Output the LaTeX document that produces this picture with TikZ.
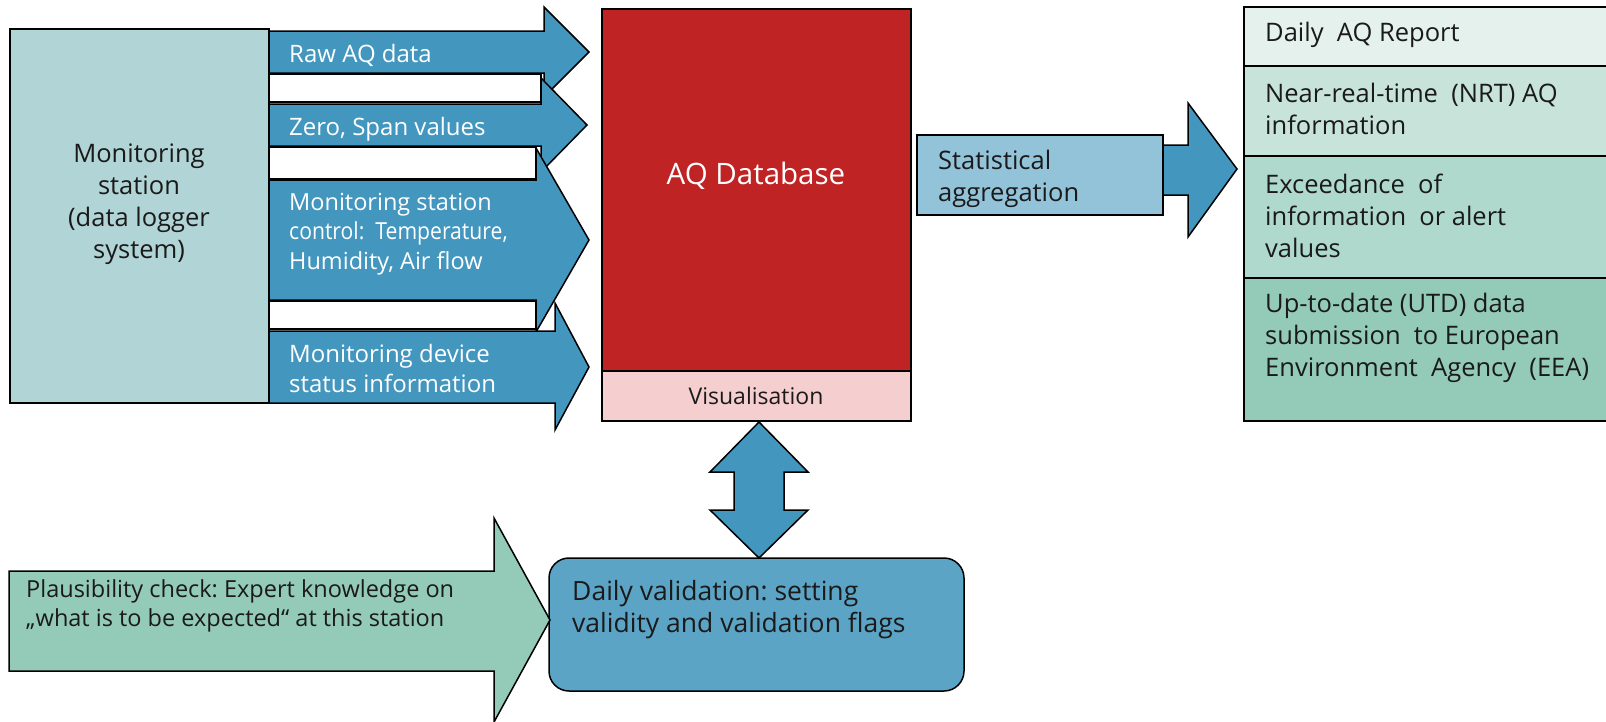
\documentclass[tikz,border=0pt]{standalone}
\usepackage{fontspec}
\setmainfont{Open Sans}
\newfontfamily\narrowfont[FakeStretch=0.9]{Open Sans}
\usepackage{tikz}
\frenchspacing

\definecolor{stationgray}{HTML}{B1D4D6}
\definecolor{flowblue}{HTML}{4397BF}
\definecolor{dbred}{HTML}{C02323}
\definecolor{vispink}{HTML}{F5CFCF}
\definecolor{statblue}{HTML}{93C3D9}
\definecolor{validblue}{HTML}{5BA4C5}
\definecolor{plaugreen}{HTML}{93CAB8}
\definecolor{rowa}{HTML}{E4F1ED}
\definecolor{rowb}{HTML}{C8E4DA}
\definecolor{rowc}{HTML}{AFD9CC}
\definecolor{rowd}{HTML}{93CAB8}
\definecolor{ink}{HTML}{1A1A1A}

\tikzset{
	box/.style={draw=black, line width=1.5pt},
	flow/.style={box, fill=flowblue, line join=miter},
	label/.style={inner sep=0pt, text=ink, align=left, anchor=west,
		font=\fontsize{24}{30}\selectfont},
	biglabel/.style={label, font=\fontsize{25.5}{32}\selectfont},
}

\begin{document}
\begin{tikzpicture}[x=1pt, y=-1pt]

	\useasboundingbox (0,0) rectangle (1606,721);

	% station and the four data flows
	\draw[box, fill=stationgray] (10,29) rectangle (269,403);
	\node[biglabel, align=center, anchor=center] (station) at (139,204)
		{Monitoring\\station\\(data logger\\system)};

	\draw[box, fill=white] (269,74) rectangle (541,102);
	\draw[box, fill=white] (269,147) rectangle (536,179);
	\draw[box, fill=white] (269,301) rectangle (536,329);

	\draw[flow] (269,31) -- (544,31) -- (544,7) -- (589,52) -- (544,97) -- (544,73) -- (269,73) -- cycle;
	\draw[flow] (269,104) -- (541,104) -- (541,78) -- (587,125) -- (541,172) -- (541,146) -- (269,146) -- cycle;
	\draw[flow] (269,180) -- (536,180) -- (536,148) -- (589,240) -- (536,332) -- (536,300) -- (269,300) -- cycle;
	\draw[flow] (269,331) -- (555,331) -- (555,303) -- (589,367) -- (555,430) -- (555,403) -- (269,403) -- cycle;

	\node[label, text=white] (raw) at (289,55) {Raw AQ data};
	\node[label, text=white] (zero) at (289,129) {Zero, Span values};
	\node[label, text=white, font=\fontsize{23.5}{29.5}\selectfont] (control) at (289,234)
		{Monitoring station\\{\narrowfont control:\ \ Temperature,}\\Humidity, Air flow};
	\node[label, text=white] (device) at (289,368) {Monitoring device\\status information};

	% database
	\draw[box, fill=dbred] (602,9) rectangle (911,371);
	\draw[box, fill=vispink] (602,371) rectangle (911,421);
	\node[label, anchor=center, text=white, font=\fontsize{29.5}{35}\selectfont] (db) at (756,176) {AQ Database};
	\node[label, anchor=center, font=\fontsize{23}{28}\selectfont] (vis) at (756,396) {Visualisation};

	% aggregation and products
	\draw[box, fill=statblue] (917,135) rectangle (1163,215);
	\node[biglabel] (stat) at (938,179) {Statistical\\aggregation};
	\draw[flow] (1163,145) -- (1188,145) -- (1188,103) -- (1237,169) -- (1188,237) -- (1188,195) -- (1163,195) -- cycle;

	\draw[box, fill=rowa] (1244,7) rectangle (1620,66);
	\draw[box, fill=rowb] (1244,66) rectangle (1620,156);
	\draw[box, fill=rowc] (1244,156) rectangle (1620,278);
	\draw[box, fill=rowd] (1244,278) rectangle (1620,421);
	\node[biglabel] (report) at (1265,35) {Daily\ \ AQ Report};
	\node[biglabel] (nrt) at (1265,109) {Near-real-time\ \ (NRT) AQ\\information};
	\node[biglabel] (exceed) at (1265,216) {Exceedance\ \ of\\information\ \ or alert\\values};
	\node[biglabel] (utd) at (1265,338) {Up-to-date (UTD) data\\submission\ \ to European\\Environment\ \ Agency\ \ (EEA)};

	% validation loop
	\draw[flow] (759,422) -- (808,472) -- (784,472) -- (784,510) -- (808,510) -- (759,558)
		-- (710,510) -- (734,510) -- (734,472) -- (710,472) -- cycle;
	\draw[box, fill=validblue, rounded corners=20pt] (549,558) rectangle (964,691);
	\node[biglabel, font=\fontsize{26.5}{32}\selectfont] (valid) at (572,610) {Daily validation: setting\\validity and validation flags};

	\draw[box, fill=plaugreen] (9,571) -- (494,571) -- (494,518) -- (550,620) -- (494,722) -- (494,671) -- (9,671) -- cycle;
	\node[label, font=\fontsize{23.5}{29}\selectfont] (plaus) at (26,606)
		{Plausibility check: Expert knowledge on\\„what is to be expected“ at this station};

\end{tikzpicture}
\end{document}
